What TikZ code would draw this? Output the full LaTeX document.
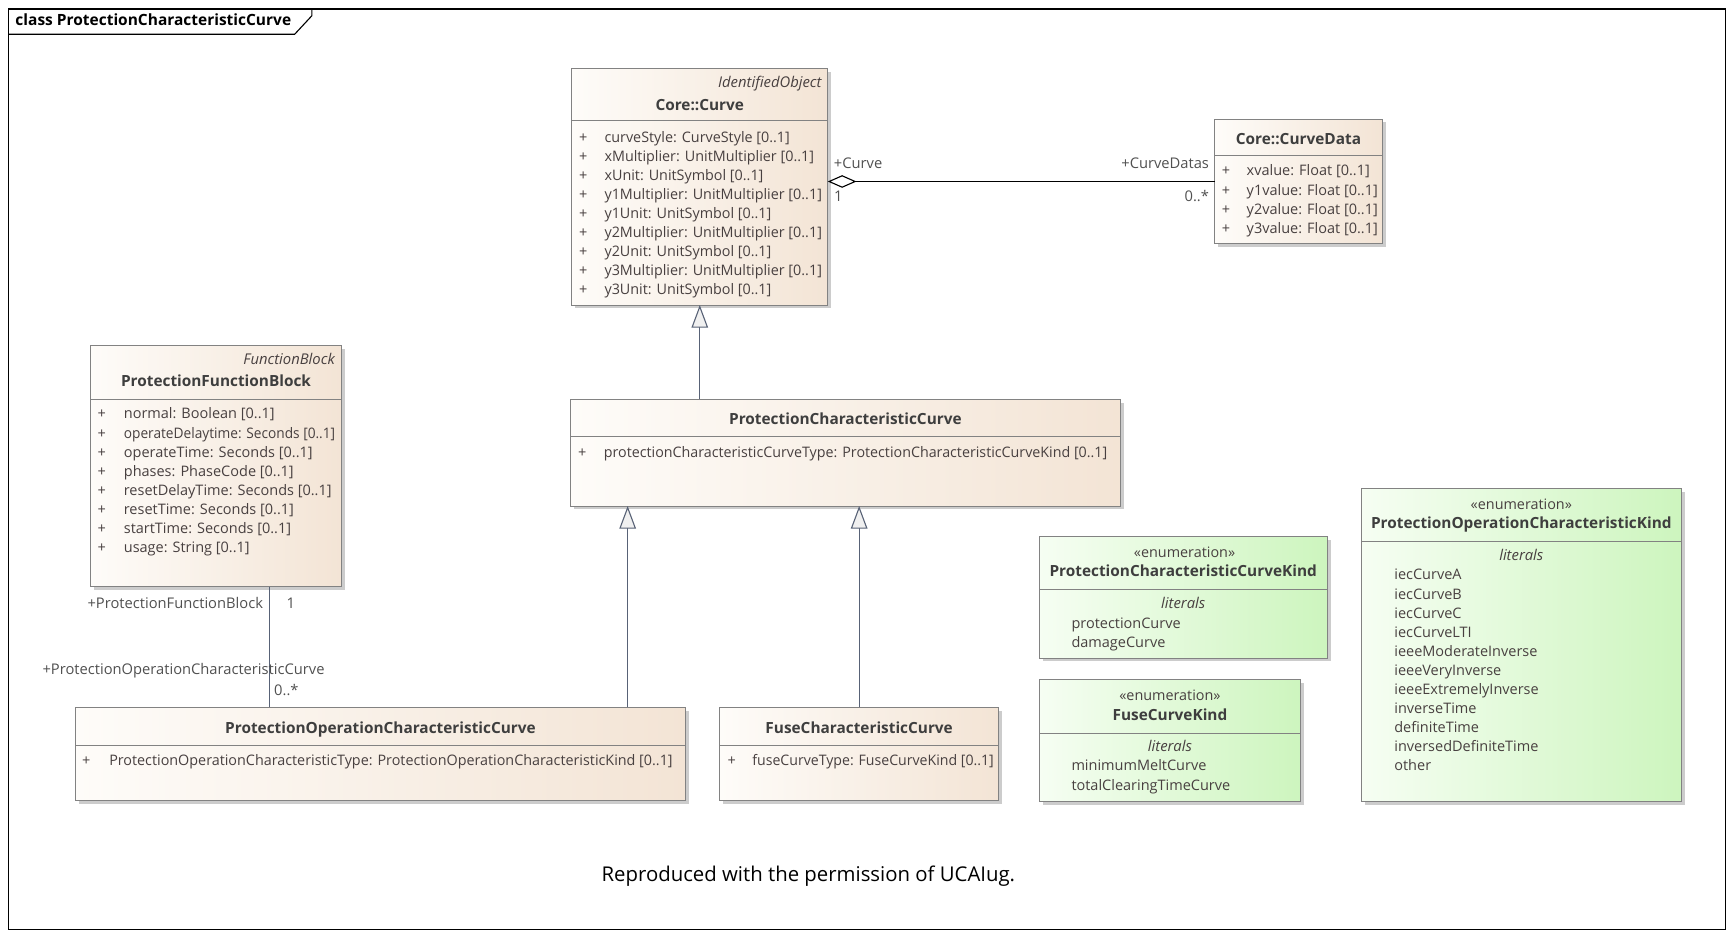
\documentclass[tikz,border=0pt]{standalone}
\usepackage{fontspec}
\setmainfont{Open Sans}
\usetikzlibrary{arrows.meta,calc,fit}
\definecolor{bordc}{RGB}{130,130,130}
\definecolor{clsL}{RGB}{254,252,249}
\definecolor{clsR}{RGB}{243,228,213}
\definecolor{enL}{RGB}{246,254,243}
\definecolor{enR}{RGB}{205,245,190}
\definecolor{txtc}{RGB}{72,64,64}
\definecolor{hdrc}{RGB}{62,62,62}
\definecolor{lblc}{RGB}{80,80,80}
\definecolor{linec}{RGB}{88,98,118}
\definecolor{shadc}{RGB}{204,204,204}
\definecolor{trif}{RGB}{240,240,240}
\newcommand\umlbox[7]{%
  \fill[shadc] (#2+3,#3+3) rectangle (#4+3,#5+3);
  \node[#7, fit={(#2,#3) (#4,#5)}] (#1) {};
  \draw[bordc, line width=0.9pt] (#2,#6) -- (#4,#6);
}
\tikzset{
  clsbox/.style={draw=bordc, line width=0.9pt, left color=clsL, right color=clsR, inner sep=0pt, outer sep=0pt},
  enbox/.style={draw=bordc, line width=0.9pt, left color=enL, right color=enR, inner sep=0pt, outer sep=0pt},
  txtbase/.style={inner sep=0pt, text height=12pt, text depth=3pt},
  attr/.style={txtbase, anchor=west, text=txtc, font=\fontsize{13.1}{15}\selectfont},
  plus/.style={txtbase, text=txtc, font=\fontsize{13.1}{15}\selectfont},
  hdr/.style={txtbase, text=hdrc, font=\bfseries\fontsize{13.9}{16}\selectfont},
  stereo/.style={txtbase, text=txtc, font=\itshape\fontsize{13.4}{15}\selectfont},
  enst/.style={txtbase, text=txtc, font=\fontsize{13}{15}\selectfont},
  lbl/.style={txtbase, text=lblc, font=\fontsize{13.3}{15}\selectfont},
  gen/.style={draw=linec, line width=1pt, -{Triangle[length=20.5pt, width=15pt, fill=trif]}},
  assoc/.style={draw=black, line width=1pt, {Diamond[length=26pt, width=11.4pt, fill=white]}-},
  plain/.style={draw=linec, line width=1pt},
}
\begin{document}
\begin{tikzpicture}[x=1pt, y=-1pt]
\useasboundingbox (0,0) rectangle (1567.8,848.1);
% frame
\draw[black, line width=1pt] (7.6,8.1) rectangle (1560,840);
\draw[black, line width=1pt] (7.6,31) -- (266.4,31) -- (282,14.2) -- (282,8.1);
\node[anchor=west, txtbase, text height=10pt, font=\bfseries\fontsize{14}{16}\selectfont] (title) at (13.8,19.5) {class ProtectionCharacteristicCurve};

% Core::Curve
\umlbox{curve}{517}{61.8}{748.4}{275.8}{109.4}{clsbox}
\node[stereo, anchor=east] (curvest) at (743,74.4) {IdentifiedObject};
\node[hdr] (curvenm) at (632.7,95) {Core::Curve};
\foreach \t [count=\i from 0] in {curveStyle: CurveStyle [0..1], xMultiplier: UnitMultiplier [0..1], xUnit: UnitSymbol [0..1], y1Multiplier: UnitMultiplier [0..1], y1Unit: UnitSymbol [0..1], y2Multiplier: UnitMultiplier [0..1], y2Unit: UnitSymbol [0..1], y3Multiplier: UnitMultiplier [0..1], y3Unit: UnitSymbol [0..1]}{
  \node[plus] (cp\i) at (527.4,124.2+17.14*\i) {+};
  \node[attr] (ca\i) at (546.4,124.2+17.14*\i) {\scalebox{0.99}[1]{\t}};
}

% Core::CurveData
\umlbox{curvedata}{1098.3}{107.6}{1249.8}{220.6}{141}{clsbox}
\node[hdr] (cdnm) at (1174,126) {Core::CurveData};
\foreach \t [count=\i from 0] in {xvalue: Float [0..1], y1value: Float [0..1], y2value: Float [0..1], y3value: Float [0..1]}{
  \node[plus] (dp\i) at (1108.4,154.6+17.27*\i) {+};
  \node[attr] (da\i) at (1127,154.6+17.27*\i) {\t};
}

% ProtectionFunctionBlock
\umlbox{pfb}{81.7}{312.8}{309}{530.5}{361}{clsbox}
\node[stereo, anchor=east] (pfbst) at (302.9,324.9) {FunctionBlock};
\node[hdr] (pfbnm) at (195.3,345.1) {ProtectionFunctionBlock};
\foreach \t [count=\i from 0] in {normal: Boolean [0..1], \scalebox{0.945}[1]{operateDelaytime: Seconds [0..1]}, operateTime: Seconds [0..1], phases: PhaseCode [0..1], resetDelayTime: Seconds [0..1], resetTime: Seconds [0..1], startTime: Seconds [0..1], usage: String [0..1]}{
  \node[plus] (fp\i) at (91.9,374.3+17.23*\i) {+};
  \node[attr] (fa\i) at (111.8,374.3+17.23*\i) {\t};
}

% ProtectionCharacteristicCurve
\umlbox{pcc}{515.7}{361}{1013.1}{457.5}{394.8}{clsbox}
\node[hdr] (pccnm) at (764.4,379.7) {ProtectionCharacteristicCurve};
\node[plus] (pccp) at (526.4,409.3) {+};
\node[attr] (pcca) at (545.8,409.3) {\scalebox{0.985}[1]{protectionCharacteristicCurveType: ProtectionCharacteristicCurveKind [0..1]}};

% ProtectionOperationCharacteristicCurve
\umlbox{pocc}{68.1}{639.5}{620}{724.2}{673.6}{clsbox}
\node[hdr] (poccnm) at (344,658.5) {ProtectionOperationCharacteristicCurve};
\node[plus] (poccp) at (78,688) {+};
\node[attr] (pocca) at (98.6,688) {\scalebox{0.99}[1]{ProtectionOperationCharacteristicType: ProtectionOperationCharacteristicKind [0..1]}};

% FuseCharacteristicCurve
\umlbox{fcc}{650.6}{639.5}{903}{724.2}{673.6}{clsbox}
\node[hdr] (fccnm) at (776.8,658.5) {FuseCharacteristicCurve};
\node[plus] (fccp) at (661.7,688) {+};
\node[attr] (fcca) at (680,688) {\scalebox{0.975}[1]{fuseCurveType: FuseCurveKind [0..1]}};

% ProtectionCharacteristicCurveKind
\umlbox{pcck}{939.6}{485}{1200}{595}{532.6}{enbox}
\node[enst] (pccks) at (1071,499.7) {«enumeration»};
\node[hdr] (pccknm) at (1069.8,516.9) {ProtectionCharacteristicCurveKind};
\node[stereo] (pcckl) at (1069.8,546.1) {literals};
\node[attr] (pccl0) at (968.6,563.6) {protectionCurve};
\node[attr] (pccl1) at (968.6,580.8) {damageCurve};

% FuseCurveKind
\umlbox{fck}{939.6}{614.2}{1176}{724.9}{663}{enbox}
\node[enst] (fcks) at (1057.8,629.3) {«enumeration»};
\node[hdr] (fcknm) at (1057.8,647.1) {FuseCurveKind};
\node[stereo] (fckl) at (1057.8,675.1) {literals};
\node[attr] (fckl0) at (968.6,692.3) {minimumMeltCurve};
\node[attr] (fckl1) at (968.6,709.8) {totalClearingTimeCurve};

% ProtectionOperationCharacteristicKind
\umlbox{pock}{1230.8}{442.1}{1520.3}{724.9}{489.2}{enbox}
\node[enst] (pocks) at (1375.5,456.6) {«enumeration»};
\node[hdr] (pocknm) at (1375.5,473.2) {ProtectionOperationCharacteristicKind};
\node[stereo] (pockl) at (1375.5,502.7) {literals};
\foreach \t [count=\i from 0] in {iecCurveA, iecCurveB, iecCurveC, iecCurveLTI, ieeeModerateInverse, ieeeVeryInverse, ieeeExtremelyInverse, inverseTime, definiteTime, inversedDefiniteTime, other}{
  \node[attr] (pl\i) at (1260.5,519.9+17.24*\i) {\t};
}

% connectors
\draw[gen] (pcc.north -| curve.south) -- (curve.south);
\coordinate (g1) at (567.5,639.5);
\draw[gen] (g1) -- (g1 |- pcc.south);
\draw[gen] (fcc.north) -- (fcc.north |- pcc.south);
\draw[assoc] (curvedata.west -| curve.east) -- (curvedata.west);
\coordinate (p1) at (243.5,530.5);
\draw[plain] (p1) -- (p1 |- pocc.north);

% labels
\node[lbl, anchor=west] (l1) at (753.8,147.7) {+Curve};
\node[lbl, anchor=west] (l2) at (754,177.8) {1};
\node[lbl, anchor=east] (l3) at (1093.3,147.7) {+CurveDatas};
\node[lbl, anchor=east] (l4) at (1093.3,177.8) {0..*};
\node[lbl, anchor=east] (l5) at (238,546.1) {+ProtectionFunctionBlock};
\node[lbl, anchor=west] (l6) at (259,546.1) {1};
\node[lbl, anchor=west] (l7) at (38.3,604.9) {+ProtectionOperationCharacteristicCurve};
\node[lbl, anchor=west] (l8) at (247.7,624.5) {0..*};

\node[txtbase, text height=16pt, text depth=4pt, font=\fontsize{18.4}{21}\selectfont] (foot) at (730.9,791) {Reproduced with the permission of UCAIug.};
\end{tikzpicture}
\end{document}
